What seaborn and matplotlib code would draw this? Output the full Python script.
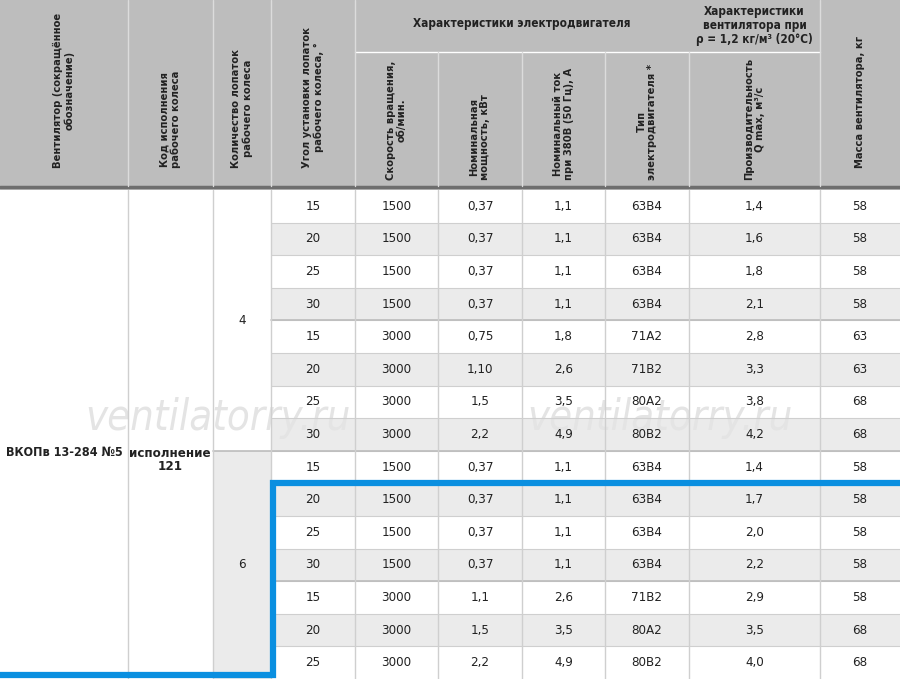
import matplotlib
matplotlib.use('Agg')
import matplotlib.pyplot as plt
import seaborn as sns

sns.set_theme(style='white')
plt.rcParams['font.family'] = ['DejaVu Sans']
plt.rcParams['font.stretch'] = 'condensed'

# данные таблицы
angles = [15, 20, 25, 30, 15, 20, 25, 30, 15, 20, 25, 30, 15, 20, 25]
speed = [1500, 1500, 1500, 1500, 3000, 3000, 3000, 3000, 1500, 1500, 1500, 1500, 3000, 3000, 3000]
power = ['0,37', '0,37', '0,37', '0,37', '0,75', '1,10', '1,5', '2,2',
         '0,37', '0,37', '0,37', '0,37', '1,1', '1,5', '2,2']
current = ['1,1', '1,1', '1,1', '1,1', '1,8', '2,6', '3,5', '4,9',
           '1,1', '1,1', '1,1', '1,1', '2,6', '3,5', '4,9']
motor = ['63B4', '63B4', '63B4', '63B4', '71A2', '71B2', '80A2', '80B2',
         '63B4', '63B4', '63B4', '63B4', '71B2', '80A2', '80B2']
flow = ['1,4', '1,6', '1,8', '2,1', '2,8', '3,3', '3,8', '4,2',
        '1,4', '1,7', '2,0', '2,2', '2,9', '3,5', '4,0']
mass = [58, 58, 58, 58, 63, 63, 68, 68, 58, 58, 58, 58, 58, 68, 68]
blades = ['4', '6']
blade_rows = [8, 7]
fan_name = 'ВКОПв 13-284 №5'
fan_code = 'исполнение\n121'

headers = ['Вентилятор (сокращённое\nобозначение)', 'Код исполнения\nрабочего колеса',
           'Количество лопаток\nрабочего колеса', 'Угол установки лопаток\nрабочего колеса, °',
           'Скорость вращения,\nоб/мин.', 'Номинальная\nмощность, кВт',
           'Номинальный ток\nпри 380В (50 Гц), А', 'Тип\nэлектродвигателя *',
           'Производительность\nQ max, м³/с', 'Масса вентилятора, кг']

xs = [0, 128, 213, 271, 355, 438, 522, 605, 689, 820, 900]
top = 190
rh = (679 - top) / len(angles)
head_bg = '#bdbdbd'
shade = '#ebebeb'
line_c = '#cfcfcf'
blue = '#0a8fe0'
txt = '#222222'

fig = plt.figure(figsize=(9, 6.79), dpi=100)
ax = fig.add_axes([0, 0, 1, 1])
ax.set_xlim(0, 900)
ax.set_ylim(679, 0)
ax.axis('off')

# шапка
ax.add_patch(plt.Rectangle((0, 0), 900, top, color=head_bg, lw=0))
ax.plot([0, 900], [187, 187], color='#6e6e6e', lw=2.5)
ax.plot([355, 820], [52, 52], color='white', lw=1)
for i, x in enumerate(xs[1:-1], start=1):
    y0 = 52 if i in (5, 6, 7, 8) else 0
    ax.plot([x, x], [y0, 186], color='#dcdcdc', lw=1)
ax.text((355 + 689) / 2, 24, 'Характеристики электродвигателя', ha='center', va='center',
        fontsize=8.5, fontweight='bold', color=txt)
ax.text((689 + 820) / 2, 26, 'Характеристики\nвентилятора при\nρ = 1,2 кг/м³ (20°С)', ha='center',
        va='center', fontsize=8.5, fontweight='bold', color=txt, linespacing=1.1)
for i, h in enumerate(headers):
    cx = (xs[i] + xs[i + 1]) / 2
    ybot = 180 if i in (4, 5, 6, 7, 8) else 168
    ax.text(cx, ybot, h, rotation=90, ha='center', va='bottom', fontsize=8,
            fontweight='bold', color=txt, linespacing=1.1)

# водяные знаки
for wx in (218, 660):
    ax.text(wx, 418, 'ventilatorry.ru', ha='center', va='center', fontsize=30,
            color='#e4e4e4', fontstyle='italic', fontweight='light', zorder=1.5)

# строки
for r in range(len(angles)):
    y = top + r * rh
    if angles[r] in (20, 30):
        ax.add_patch(plt.Rectangle((271, y), 629, rh, color=shade, lw=0, zorder=1))
    vals = [angles[r], speed[r], power[r], current[r], motor[r], flow[r], mass[r]]
    for j, v in enumerate(vals):
        cx = (xs[3 + j] + xs[4 + j]) / 2
        ax.text(cx, y + rh / 2, str(v), ha='center', va='center', fontsize=9.5, color=txt, zorder=3)
    if r > 0:
        ax.plot([271, 900], [y, y], color=line_c, lw=0.8)

# группы лопаток
y = top
for b, n in zip(blades, blade_rows):
    if b == '6':
        ax.add_patch(plt.Rectangle((213, y), 58, n * rh, color=shade, lw=0, zorder=1))
    ax.text(242, y + n * rh / 2, b, ha='center', va='center', fontsize=9.5, color=txt, zorder=3)
    y += n * rh
ax.plot([213, 900], [top + 8 * rh, top + 8 * rh], color='#bcbcbc', lw=1.2)
ax.plot([271, 900], [top + 4 * rh, top + 4 * rh], color='#bcbcbc', lw=1.2)
ax.plot([271, 900], [top + 12 * rh, top + 12 * rh], color='#bcbcbc', lw=1.2)
for x in xs[1:-1]:
    ax.plot([x, x], [top, 679], color=line_c, lw=1)

ax.text(64, 452, fan_name, ha='center', va='center', fontsize=9, fontweight='bold', color=txt, zorder=3)
ax.text(170, 460, fan_code, ha='center', va='center', fontsize=9.5, fontweight='bold',
        color=txt, linespacing=1.0, zorder=3)

# синяя рамка
ax.plot([900, 273, 273, 0], [483, 483, 675, 675], color=blue, lw=4.5, solid_joinstyle='miter', zorder=4)

fig.savefig('out.png', dpi=100)
